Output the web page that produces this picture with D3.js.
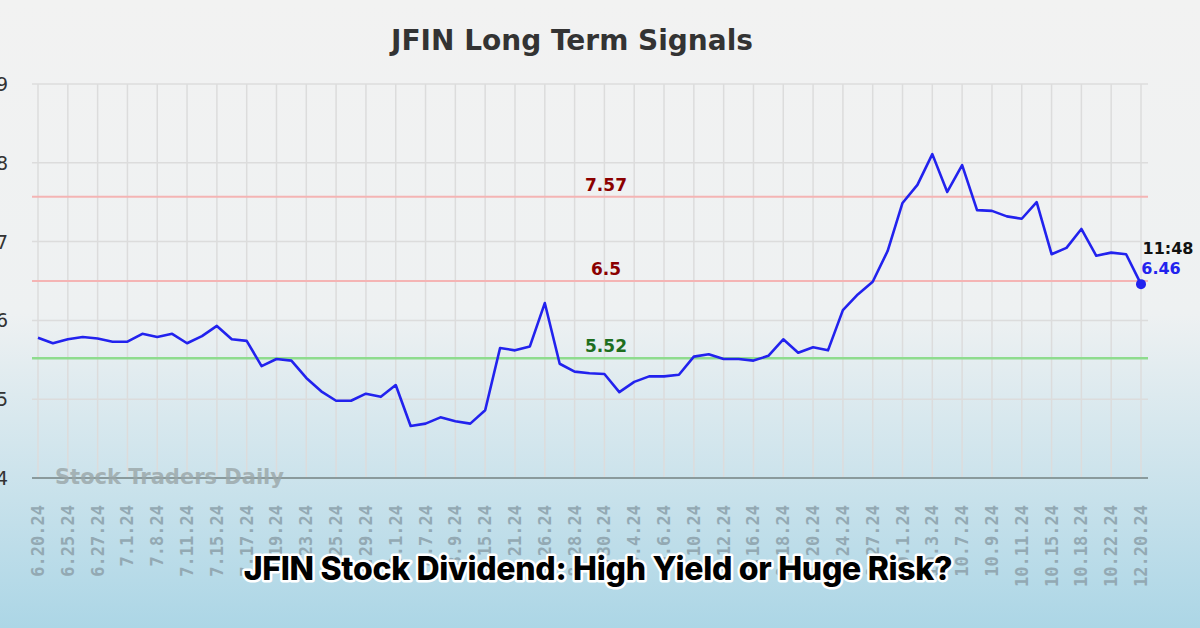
<!DOCTYPE html>
<html>
<head>
<script src="https://cdn.jsdelivr.net/npm/d3@7/dist/d3.min.js"></script>
<style>
  body { margin: 0; overflow: hidden; }
</style>
</head>
<body>
<script>

var prices = [5.78,5.71,5.76,5.79,5.77,5.73,5.73,5.83,5.79,5.83,5.71,5.80,5.93,5.76,5.74,
  5.42,5.51,5.49,5.27,5.10,4.98,4.98,5.07,5.03,5.18,4.66,4.69,4.77,4.72,4.69,4.86,
  5.65,5.62,5.67,6.22,5.45,5.35,5.33,5.32,5.09,5.22,5.29,5.29,5.31,5.54,5.57,5.51,
  5.51,5.49,5.55,5.76,5.59,5.66,5.62,6.13,6.33,6.49,6.88,7.49,7.72,8.11,7.63,7.97,
  7.40,7.39,7.32,7.29,7.50,6.84,6.92,7.16,6.82,6.86,6.84,6.46];
var dateLabels = ["6.20.24","6.25.24","6.27.24","7.1.24","7.8.24","7.11.24","7.15.24","7.17.24",
  "7.19.24","7.23.24","7.25.24","7.29.24","8.1.24","8.7.24","8.9.24","8.15.24","8.21.24","8.26.24",
  "8.28.24","8.30.24","9.4.24","9.6.24","9.10.24","9.12.24","9.16.24","9.18.24","9.20.24","9.24.24",
  "9.27.24","10.1.24","10.3.24","10.7.24","10.9.24","10.11.24","10.15.24","10.18.24","10.22.24","12.20.24"];
var yTicks = [4,5,6,7,8,9];
var signals = [7.57, 6.5, 5.52];
var signalColors = ["#f4b4b4","#f4b4b4","#8edc8e"];
var signalText = ["#8b0000","#8b0000","#1e6e1e"];

var W = 1200, H = 628;
var svg = d3.select("body").append("svg").attr("width", W).attr("height", H);

var grad = svg.append("defs").append("linearGradient")
  .attr("id","bg").attr("x1",0).attr("y1",0).attr("x2",0).attr("y2",1);
grad.append("stop").attr("offset","0").attr("stop-color","#f2f2f2");
grad.append("stop").attr("offset","0.5").attr("stop-color","#eef1f2");
grad.append("stop").attr("offset","1").attr("stop-color","#acd6e6");
svg.append("rect").attr("width",W).attr("height",H).attr("fill","url(#bg)");

var x = d3.scaleLinear().domain([0, prices.length - 1]).range([38, 1141]);
var y = d3.scaleLinear().domain([4, 9]).range([478, 84]);
var xl = d3.scalePoint().domain(dateLabels).range([38, 1141]);

// grid
var vgrid = d3.range(0, prices.length, 2);
svg.append("g").selectAll("line").data(vgrid).enter().append("line")
  .attr("x1", d => x(d)).attr("x2", d => x(d)).attr("y1", y(9)).attr("y2", y(4))
  .attr("stroke","#dcdcdc").attr("stroke-width",1.5);
svg.append("g").selectAll("line").data(yTicks).enter().append("line")
  .attr("x1", 32).attr("x2", 1148).attr("y1", d => y(d)).attr("y2", d => y(d))
  .attr("stroke", d => d == 4 ? "#8a9a9c" : "#dcdcdc").attr("stroke-width", d => d == 4 ? 2 : 1.5);

svg.append("g").selectAll("text").data(yTicks).enter().append("text")
  .attr("x", 8).attr("y", d => y(d) + 7).attr("text-anchor","end")
  .attr("font-family","DejaVu Sans").attr("font-size",19).attr("fill","#333")
  .text(d => d);

// signal lines
signals.forEach(function (s, i) {
  svg.append("line").attr("x1",32).attr("x2",1148).attr("y1",y(s)).attr("y2",y(s))
    .attr("stroke",signalColors[i]).attr("stroke-width", i == 2 ? 2.5 : 2);
  svg.append("text").attr("x",606).attr("y",y(s) - 6).attr("text-anchor","middle")
    .attr("font-family","DejaVu Sans").attr("font-weight","bold").attr("font-size",17)
    .attr("fill",signalText[i]).text(s);
});

// watermark
svg.append("text").attr("x",55).attr("y",484)
  .attr("font-family","DejaVu Sans").attr("font-weight","bold").attr("font-size",21)
  .attr("fill","#9aa6a8").attr("opacity",0.8).text("Stock Traders Daily");

// price line
var line = d3.line().x((d, i) => x(i)).y(d => y(d));
svg.append("path").datum(prices).attr("d", line)
  .attr("fill","none").attr("stroke","#2222ee").attr("stroke-width",2.6)
  .attr("stroke-linejoin","round");
var last = prices.length - 1;
svg.append("circle").attr("cx", x(last)).attr("cy", y(prices[last])).attr("r",5).attr("fill","#2222ee");
svg.append("text").attr("x",1168).attr("y",254).attr("text-anchor","middle")
  .attr("font-family","DejaVu Sans").attr("font-weight","bold").attr("font-size",16)
  .attr("fill","#111").text("11:48");
svg.append("text").attr("x",1161).attr("y",274).attr("text-anchor","middle")
  .attr("font-family","DejaVu Sans").attr("font-weight","bold").attr("font-size",16)
  .attr("fill","#2222ee").text(prices[last].toFixed(2));

// title
svg.append("text").attr("x",572).attr("y",50).attr("text-anchor","middle")
  .attr("font-family","DejaVu Sans").attr("font-weight","bold").attr("font-size",28)
  .attr("fill","#333").text("JFIN Long Term Signals");

// x labels
svg.append("g").selectAll("text").data(dateLabels).enter().append("text")
  .attr("transform", d => "translate(" + (xl(d) + 6) + ",505) rotate(-90)")
  .attr("text-anchor","end")
  .attr("font-family","DejaVu Sans Mono").attr("font-weight","bold").attr("font-size",17)
  .attr("fill","#93a9b3").text(d => d);

// headline overlay
svg.append("text").attr("x",598).attr("y",580).attr("text-anchor","middle")
  .attr("font-family","Inter").attr("font-weight","800").attr("font-size",32)
  .attr("letter-spacing","-0.3")
  .attr("fill","#000").attr("stroke","#fff").attr("stroke-width",5)
  .attr("paint-order","stroke").attr("stroke-linejoin","round")
  .text("JFIN Stock Dividend: High Yield or Huge Risk?");

</script>
</body>
</html>
